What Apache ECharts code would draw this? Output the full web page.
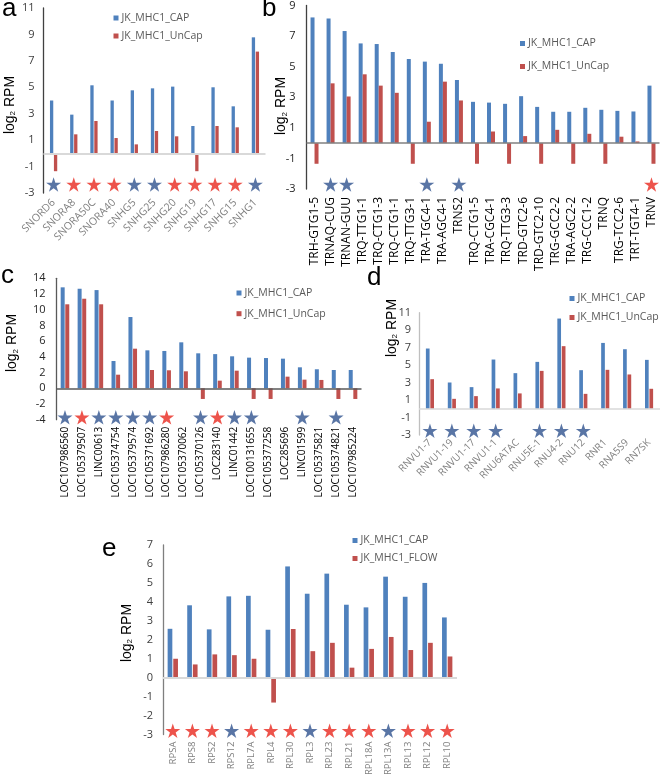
<!DOCTYPE html>
<html><head><meta charset="utf-8">
<script src="https://cdn.jsdelivr.net/npm/echarts@6/dist/echarts.min.js"></script>
<style>html,body{margin:0;padding:0;background:#fff}#c{width:660px;height:778px}</style>
</head><body><div id="c"></div>
<script>
// ---------- Panel a ----------
const A_CATS = ['SNORD6','SNORA8','SNORA50C','SNORA40','SNHG5','SNHG25','SNHG20','SNHG19','SNHG17','SNHG15','SNHG1'];
const A_CAP = [4.0, 2.93, 5.15, 4.0, 4.77, 4.92, 5.05, 2.07, 5.0, 3.56, 8.78];
const A_UNCAP = [-1.35, 1.44, 2.45, 1.16, 0.68, 1.69, 1.29, -1.35, 2.07, 1.97, 7.7];
const A_STARS = ['b','r','r','r','b','b','r','r','r','r','b'];
const A_TICKS = [-3,-1,1,3,5,7,9,11];
// ---------- Panel b ----------
const B_CATS = ['TRH-GTG1-5','TRNAQ-CUG','TRNAN-GUU','TRQ-TTG1-1','TRQ-CTG1-3','TRQ-CTG1-1','TRQ-TTG3-1','TRA-TGC4-1','TRA-AGC4-1','TRNS2','TRQ-CTG1-5','TRA-CGC4-1','TRQ-TTG3-3','TRD-GTC2-6','TRD-GTC2-10','TRG-GCC2-2','TRA-AGC2-2','TRG-CCC1-2','TRNQ','TRG-TCC2-6','TRT-TGT4-1','TRNV'];
const B_CAP = [8.22, 8.15, 7.33, 6.52, 6.48, 5.96, 5.5, 5.33, 5.19, 4.13, 2.7, 2.65, 2.57, 3.07, 2.37, 2.05, 2.05, 2.31, 2.18, 2.11, 2.07, 3.76];
const B_UNCAP = [-1.35, 3.91, 3.05, 4.5, 3.76, 3.29, -1.35, 1.4, 4.02, 2.79, -1.35, 0.76, -1.35, 0.46, -1.35, 0.87, -1.35, 0.61, -1.35, 0.42, 0.11, -1.35];
const B_STARS = ['','b','b','','','','','b','','b','','','','','','','','','','','','r'];
const B_TICKS = [-3,-1,1,3,5,7,9];
// ---------- Panel c ----------
const C_CATS = ['LOC107986560','LOC105379507','LINC00613','LOC105374754','LOC105379574','LOC105371692','LOC107986280','LOC105370062','LOC105370126','LOC283140','LINC01442','LOC100131655','LOC105377258','LOC285696','LINC01599','LOC105375821','LOC105374821','LOC107985224'];
const C_CAP = [12.85, 12.67, 12.5, 3.47, 9.07, 4.83, 4.75, 5.85, 4.45, 4.35, 4.07, 3.9, 3.85, 3.77, 2.67, 2.42, 2.33, 2.33];
const C_UNCAP = [10.69, 11.4, 10.69, 1.73, 5.04, 2.33, 2.29, 2.16, -1.36, 0.97, 2.24, -1.36, -1.36, 1.48, 1.1, 1.06, -1.36, -1.36];
const C_STARS = ['b','r','b','b','b','b','r','','b','r','b','b','','','b','','b',''];
const C_TICKS = [-4,-2,0,2,4,6,8,10,12,14];
// ---------- Panel d ----------
const D_CATS = ['RNVU1-7','RNVU1-19','RNVU1-17','RNVU1-1','RNU6ATAC','RNU5E-1','RNU4-2','RNU12','RNR1','RNA5S9','RN7SK'];
const D_CAP = [6.9, 3.01, 2.48, 5.64, 4.08, 5.37, 10.33, 4.42, 7.54, 6.82, 5.6];
const D_UNCAP = [3.39, 1.14, 1.45, 2.33, 1.76, 4.34, 7.17, 1.71, 4.46, 3.93, 2.29];
const D_STARS = ['b','b','b','b','','b','b','b','','',''];
const D_TICKS = [-3,-1,1,3,5,7,9,11];
// ---------- Panel e ----------
const E_CATS = ['RPSA','RPS8','RPS2','RPS12','RPL7A','RPL4','RPL30','RPL3','RPL23','RPL21','RPL18A','RPL13A','RPL13','RPL12','RPL10'];
const E_CAP = [2.58, 3.82, 2.55, 4.29, 4.32, 2.53, 5.87, 4.43, 5.49, 3.85, 3.71, 5.33, 4.27, 5.0, 3.18];
const E_FLOW = [1.0, 0.7, 1.23, 1.19, 1.0, -1.31, 2.57, 1.4, 1.84, 0.53, 1.52, 2.15, 1.46, 1.84, 1.12];
const E_STARS = ['r','r','r','b','r','r','r','b','r','r','r','b','r','r','r'];
const E_TICKS = [-3,-2,-1,0,1,2,3,4,5,6,7];

const SERIES_NAMES = ['JK_MHC1_CAP','JK_MHC1_UnCap','JK_MHC1_FLOW'];

const BLUE = '#4F81BD', RED = '#C0504D';
const STAR_COLORS = { b: '#2F528F', r: '#E8281E' };
const STAR_PATH = 'path://M50,0 L61.2,34.5 L97.6,34.5 L68.2,55.9 L79.4,90.5 L50,69.1 L20.6,90.5 L31.8,55.9 L2.4,34.5 L38.8,34.5 Z';
const FONT = '"Open Sans", sans-serif';

const panels = [
  { cats: A_CATS, s1: A_CAP, s2: A_UNCAP, n2: SERIES_NAMES[1], stars: A_STARS, ticks: A_TICKS,
    grid: {left: 43.5, top: 8, width: 222, height: 185}, min: -3, max: 11, starY: -2.35,
    barWidth: 3.3, barGap: '20%', zero: {color: '#d9d9d9', width: 2}, axisColor: '#404040',
    yLabel: {color: '#404040', fontSize: 11, margin: 9},
    xLabel: {rotate: 45, color: '#7f7f7f', fontSize: 10.5, margin: 8},
    legend: {left: 108.5, top: 7, itemGap: 6},
    letter: {t: 'a', x: 2, y: 8}, yname: {x: 10, y: 105} },
  { cats: B_CATS, s1: B_CAP, s2: B_UNCAP, n2: SERIES_NAMES[1], stars: B_STARS, ticks: B_TICKS,
    grid: {left: 306.5, top: 5, width: 353, height: 184}, min: -3, max: 9, starY: -2.7,
    barWidth: 4, barGap: '0%', zero: {color: '#808080', width: 1.5}, axisColor: '#404040',
    yLabel: {color: '#262626', fontSize: 11, margin: 11},
    xLabel: {rotate: 90, color: '#000', fontSize: 12, margin: 8},
    legend: {left: 515, top: 32.5, itemGap: 11},
    letter: {t: 'b', x: 262, y: 8}, yname: {x: 281.5, y: 106} },
  { cats: C_CATS, s1: C_CAP, s2: C_UNCAP, n2: SERIES_NAMES[1], stars: C_STARS, ticks: C_TICKS,
    grid: {left: 56.5, top: 278.3, width: 305, height: 141.4}, min: -4, max: 14, starY: -3.7,
    barWidth: 4, barGap: '15%', zero: {color: '#595959', width: 1.5}, axisColor: '#595959',
    yLabel: {color: '#262626', fontSize: 11, margin: 11},
    xLabel: {rotate: 90, color: '#000', fontSize: 10, margin: 7},
    legend: {left: 231.5, top: 282, itemGap: 8.7},
    letter: {t: 'c', x: 1, y: 275}, yname: {x: 12.5, y: 343} },
  { cats: D_CATS, s1: D_CAP, s2: D_UNCAP, n2: SERIES_NAMES[1], stars: D_STARS, ticks: D_TICKS,
    grid: {left: 419, top: 312.7, width: 241, height: 122.3}, min: -3, max: 11, starY: -2.5,
    barWidth: 3.7, barGap: '20%', zero: {color: '#d9d9d9', width: 1.5}, axisColor: '#bfbfbf',
    yLabel: {color: '#404040', fontSize: 11, margin: 8},
    xLabel: {rotate: 45, color: '#7f7f7f', fontSize: 10, margin: 6},
    legend: {left: 564.5, top: 287.5, itemGap: 7},
    letter: {t: 'd', x: 367, y: 277}, yname: {x: 392, y: 328} },
  { cats: E_CATS, s1: E_CAP, s2: E_FLOW, n2: SERIES_NAMES[2], stars: E_STARS, ticks: E_TICKS,
    grid: {left: 163, top: 545, width: 294, height: 191.7}, min: -3, max: 7, starY: -2.8,
    barWidth: 4.7, barGap: '20%', zero: {color: '#d9d9d9', width: 2}, axisColor: '#7f7f7f',
    yLabel: {color: '#404040', fontSize: 11, margin: 10},
    xLabel: {rotate: 90, color: '#7f7f7f', fontSize: 9.5, margin: 7},
    legend: {left: 347.5, top: 529.5, itemGap: 6},
    letter: {t: 'e', x: 102, y: 548}, yname: {x: 127, y: 633} }
];

const option = { animation: false, grid: [], xAxis: [], yAxis: [], series: [], legend: [], graphic: [] };

panels.forEach((p, i) => {
  option.grid.push(Object.assign({containLabel: false}, p.grid));
  option.xAxis.push({
    type: 'category', gridIndex: i, data: p.cats,
    axisLine: {show: false}, axisTick: {show: false}, splitLine: {show: false},
    axisLabel: {interval: 0, rotate: p.xLabel.rotate, color: p.xLabel.color, fontSize: p.xLabel.fontSize,
      margin: p.xLabel.margin, fontFamily: FONT}
  });
  option.yAxis.push({
    type: 'value', gridIndex: i, min: p.min, max: p.max,
    axisLine: {show: true, lineStyle: {color: p.axisColor, width: 1.3}},
    axisTick: {show: false}, splitLine: {show: false},
    axisLabel: {customValues: p.ticks, color: p.yLabel.color, fontSize: p.yLabel.fontSize,
      margin: p.yLabel.margin, fontFamily: FONT}
  });
  option.series.push({
    type: 'bar', name: SERIES_NAMES[0], xAxisIndex: i, yAxisIndex: i, data: p.s1,
    barWidth: p.barWidth, barGap: p.barGap, itemStyle: {color: BLUE},
    markLine: {silent: true, symbol: ['none','none'], label: {show: false},
      lineStyle: {color: p.zero.color, width: p.zero.width, type: 'solid'}, data: [{yAxis: 0}]}
  });
  option.series.push({
    type: 'bar', name: p.n2, xAxisIndex: i, yAxisIndex: i, data: p.s2,
    barWidth: p.barWidth, barGap: p.barGap, itemStyle: {color: RED}
  });
  const starData = [];
  p.stars.forEach((s, k) => {
    if (s) starData.push({value: [k, p.starY], itemStyle: {color: STAR_COLORS[s]}});
  });
  option.series.push({
    type: 'scatter', name: 'sig' + i, xAxisIndex: i, yAxisIndex: i, data: starData,
    symbol: STAR_PATH, symbolSize: [15, 14.5], symbolKeepAspect: false, z: 5
  });
  option.legend.push({
    orient: 'vertical', left: p.legend.left, top: p.legend.top, itemGap: p.legend.itemGap,
    icon: 'rect', itemWidth: 5, itemHeight: 5, selectedMode: false,
    data: [SERIES_NAMES[0], p.n2],
    textStyle: {color: '#595959', fontSize: 10.5, fontFamily: FONT, lineHeight: 12, padding: [0,0,0,-2]}
  });
  option.graphic.push({
    type: 'text', left: p.letter.x, top: p.letter.y - 12,
    style: {text: p.letter.t, fontSize: 26, fill: '#000', fontFamily: '"Liberation Sans", Arial, sans-serif'}
  });
  option.graphic.push({
    type: 'text', x: p.yname.x, y: p.yname.y, rotation: Math.PI / 2,
    style: {text: 'log{s|2} RPM', fill: '#000', fontSize: 14, fontFamily: '"Liberation Sans", Arial, sans-serif',
      align: 'center', verticalAlign: 'middle',
      rich: {s: {fontSize: 8, verticalAlign: 'bottom', fill: '#000', fontFamily: '"Liberation Sans", Arial, sans-serif'}}}
  });
});

const chart = echarts.init(document.getElementById('c'), null, {renderer: 'canvas'});
chart.setOption(option);
</script>
</body></html>
